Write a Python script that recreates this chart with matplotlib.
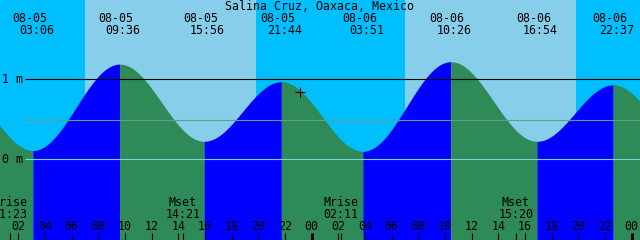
import numpy as np
import matplotlib
matplotlib.use('Agg')
import matplotlib.pyplot as plt

STATION = 'Salina Cruz, Oaxaca, Mexico'

# tide extremes (first and last lie just outside the plotted window)
tide_days = ['08-04', '08-05', '08-05', '08-05', '08-05', '08-06', '08-06', '08-06', '08-06', '08-07']
tide_times = ['21:18', '03:06', '09:36', '15:56', '21:44', '03:51', '10:26', '16:54', '22:37', '04:40']
tide_heights = [0.92, 0.11, 1.19, 0.225, 0.97, 0.10, 1.22, 0.225, 0.93, 0.10]

# sunrise / sunset
sun_days = ['08-05', '08-05', '08-06', '08-06']
sun_times = ['07:00', '19:50', '07:00', '19:50']

# moon events
moon_days = ['08-05', '08-05', '08-06', '08-06']
moon_times = ['01:23', '14:21', '02:11', '15:20']
moon_names = ['Mrise', 'Mset', 'Mrise', 'Mset']

# "now" marker
now_day, now_time, now_height = '08-05', '23:08', 0.845

depth_lines = [1.0, 0.49, 0.0]
depth_labels = ['1 m', '', '0 m']
depth_colors = ['black', '#5f9f8f', '#80d0e0']

NIGHT = '#00bfff'
DAY = '#87ceeb'
RISING = '#0000ff'
FALLING = '#2e8b57'
FONT = 'DejaVu Sans Mono'
FS = 8.4


def hours(day, hm):
    # hours after 08-05 00:00
    d = int(day[3:]) - 5
    h, m = hm.split(':')
    return d * 24 + int(h) + int(m) / 60


T0 = hours('08-05', '00:38')
T1 = T0 + 48
PXH = 640 / 48          # pixels per hour
ZERO_ROW, PXM = 159.3, 80.0


def yrow(row):
    # pixel row (from top) -> metres
    return (ZERO_ROW - row) / PXM


def xpx(px):
    return px / PXH


fig = plt.figure(figsize=(6.4, 2.4), dpi=100)
ax = fig.add_axes([0, 0, 1, 1])
ax.set_xlim(T0, T1)
ax.set_ylim(yrow(240), yrow(0))
ax.axis('off')

# sky
ax.axvspan(T0, T1, color=NIGHT, lw=0)
st = [hours(d, t) for d, t in zip(sun_days, sun_times)]
for a, b in zip(st[::2], st[1::2]):
    ax.axvspan(a, b, color=DAY, lw=0)

# tide curve, cosine between extremes
tt = [hours(d, t) for d, t in zip(tide_days, tide_times)]
for i in range(len(tt) - 1):
    ta, tb = tt[i], tt[i + 1]
    ha, hb = tide_heights[i], tide_heights[i + 1]
    t = np.linspace(ta, tb, 300)
    h = hb + (ha - hb) * (1 + np.cos(np.pi * (t - ta) / (tb - ta))) / 2
    col = RISING if hb > ha else FALLING
    ax.fill_between(t, yrow(241), h, color=col, lw=0)

# depth lines
for lv, lab, c in zip(depth_lines, depth_labels, depth_colors):
    ax.hlines(lv, T0 + xpx(25), T1, color=c, lw=0.8)
    if lab:
        ax.text(T0 + xpx(2), lv - 4 / PXM, lab, fontsize=FS, family=FONT,
                ha='left', va='baseline')

ax.text((T0 + T1) / 2, yrow(9.5), STATION, fontsize=FS, family=FONT,
        ha='center', va='baseline')

# tide event labels
for d, t, x in zip(tide_days[1:-1], tide_times[1:-1], tt[1:-1]):
    ax.text(x - xpx(21), yrow(22), d, fontsize=FS, family=FONT, ha='left', va='baseline')
    ax.text(x - xpx(14), yrow(34), t, fontsize=FS, family=FONT, ha='left', va='baseline')

# moon labels and ticks
for d, t, n in zip(moon_days, moon_times, moon_names):
    x = hours(d, t)
    ax.text(x, yrow(206), n, fontsize=FS, family=FONT, ha='center', va='baseline')
    ax.text(x, yrow(217.5), t, fontsize=FS, family=FONT, ha='center', va='baseline')
    ax.vlines(x, yrow(240), yrow(233), color='black', lw=0.8)

# hour ticks
for hr in range(2, 50, 2):
    if hr > T1 + 1:
        break
    lw = 2.2 if hr % 24 == 0 else 0.8
    ax.vlines(hr, yrow(240), yrow(233), color='black', lw=lw)
    ax.text(hr, yrow(229.5), f'{hr % 24:02d}', fontsize=FS, family=FONT,
            ha='center', va='baseline')

ax.plot(hours(now_day, now_time), now_height, marker='+', color='black',
        markersize=7, mew=0.8)

fig.savefig('out.png', dpi=100)
